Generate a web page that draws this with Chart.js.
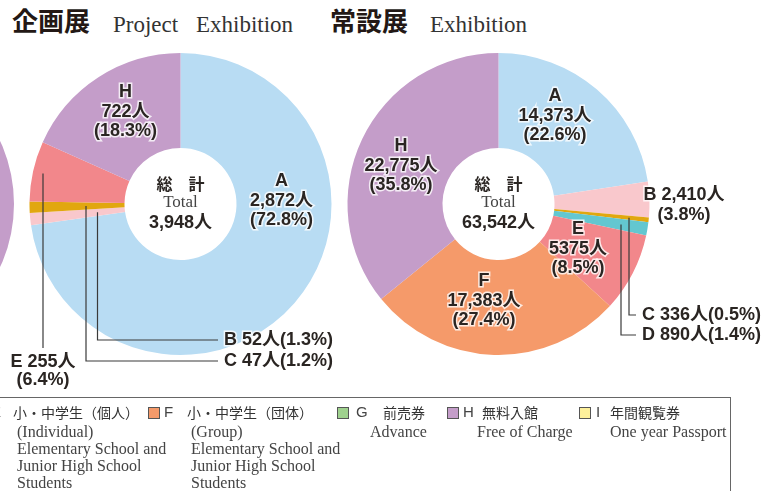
<!DOCTYPE html>
<html>
<head>
<meta charset="utf-8">
<script src="https://cdn.jsdelivr.net/npm/chart.js@4.4.1/dist/chart.umd.min.js"></script>
<style>
  body { margin: 0; width: 781px; height: 491px; overflow: hidden; position: relative; background: #fff; color: #231815; font-family: "Noto Sans CJK JP", sans-serif; }
  canvas { position: absolute; top: 0; }
  .t { position: absolute; white-space: nowrap; }
  .ja-title { font-weight: bold; font-size: 26px; line-height: 26px; top: 7px; }
  .en-title { font-family: "Liberation Serif", serif; font-size: 23px; line-height: 23px; top: 13px; color: #333; }
  #legend { position: absolute; left: -40px; top: 397px; width: 771px; height: 140px; border: 1px solid #666; box-sizing: border-box; }
  .sq { position: absolute; top: 407px; width: 12px; height: 12px; border: 1px solid #555; box-sizing: border-box; }
  .lt { position: absolute; top: 404px; font-family: "Liberation Sans", sans-serif; font-size: 15px; line-height: 16px; color: #444; }
  .lj { position: absolute; top: 404px; font-size: 14px; line-height: 16px; color: #333; white-space: nowrap; }
  .le { position: absolute; top: 423px; font-family: "Liberation Serif", serif; font-size: 16px; line-height: 17px; color: #444; white-space: nowrap; }
</style>
</head>
<body>
<div class="t ja-title" style="left:12px">企画展</div>
<div class="t en-title" style="left:113px">Project</div>
<div class="t en-title" style="left:196px">Exhibition</div>
<div class="t ja-title" style="left:330px">常設展</div>
<div class="t en-title" style="left:430px">Exhibition</div>

<canvas id="partialChart" width="330" height="491" style="left:-300px"></canvas>
<canvas id="projectChart" width="781" height="491" style="left:0"></canvas>
<canvas id="permanentChart" width="781" height="491" style="left:0"></canvas>
<div id="legend"></div>

<script>
// categories and colours
const categories = ['A', 'B', 'C', 'D', 'E', 'F', 'G', 'H', 'I'];
const sliceColors = ['#b8dcf3', '#f9c8cc', '#e1a70f', '#63c7d0', '#f2878b', '#f59a6a', '#9fd18e', '#c49dc9', '#fdf09b'];

// 企画展 Project Exhibition
const projectValues = [2872, 52, 47, 0, 255, 0, 0, 722, 0];
const projectCounts = ['2,872', '52', '47', '', '255', '', '', '722', ''];
const projectPercents = [72.8, 1.3, 1.2, 0, 6.4, 0, 0, 18.3, 0];

// 常設展 Exhibition
const permanentValues = [14373, 2410, 336, 890, 5375, 17383, 0, 22775, 0];
const permanentCounts = ['14,373', '2,410', '336', '890', '5375', '17,383', '', '22,775', ''];
const permanentPercents = [22.6, 3.8, 0.5, 1.4, 8.5, 27.4, 0, 35.8, 0];

// cut-off chart at the left edge, only its purple part shows
const partialValues = [0, 0, 0, 0, 0, 0, 0, 1, 0];

// legend (E..I visible)
const legendCats = ['E', 'F', 'G', 'H', 'I'];
const legendJa = ['小・中学生（個人）', '小・中学生（団体）', '前売券', '無料入館', '年間観覧券'];
const legendEn = [
    ['(Individual)', 'Elementary School and', 'Junior High School', 'Students'],
    ['(Group)', 'Elementary School and', 'Junior High School', 'Students'],
    ['Advance'],
    ['Free of Charge'],
    ['One year Passport']
];

const R = 151, HOLE = 56;
const labelFont = 'bold 18px "Liberation Sans", "Noto Sans CJK JP", sans-serif';
const ink = '#2a2522';

function padAround(cx, cy, w, h) {
    return { left: cx - R, right: w - cx - R, top: cy - R, bottom: h - cy - R };
}

function haloText(ctx, text, x, y) {
    ctx.lineWidth = 3;
    ctx.strokeStyle = 'rgba(255,255,255,0.8)';
    ctx.strokeText(text, x, y);
    ctx.fillStyle = ink;
    ctx.fillText(text, x, y);
}

// draws the total in the hole and the labels round the ring
const ringLabels = {
    id: 'ringLabels',
    afterDatasetsDraw(chart, args, opts) {
        if (!opts.items) return;
        const meta = chart.getDatasetMeta(0);
        const cx = meta.data[0].x, cy = meta.data[0].y;
        const ctx = chart.ctx;
        const counts = opts.counts, pcts = opts.percents;
        const total = chart.data.datasets[0].data.reduce((a, b) => a + b, 0);
        ctx.save();
        ctx.textAlign = 'center';
        ctx.textBaseline = 'middle';
        ctx.fillStyle = ink;
        ctx.font = 'bold 16px "Noto Sans CJK JP", sans-serif';
        ctx.fillText('総　計', cx, cy - 20);
        ctx.font = '17px "Liberation Serif", serif';
        ctx.fillStyle = '#444';
        ctx.fillText('Total', cx, cy - 1);
        ctx.font = labelFont;
        ctx.fillStyle = ink;
        ctx.fillText(total.toLocaleString('en-US') + '人', cx, cy + 19);

        opts.items.forEach(item => {
            const i = categories.indexOf(item.cat);
            const arc = meta.data[i];
            const mid = (arc.startAngle + arc.endAngle) / 2;
            const cnt = counts[i] + '人';
            const pct = '(' + pcts[i] + '%)';
            ctx.font = labelFont;
            if (item.type === 'inside' || item.type === 'side') {
                const lines = item.type === 'inside' ? [item.cat, cnt, pct] : [item.cat + ' ' + cnt, pct];
                const top = cy + item.dy - (lines.length - 1) * 19.5 / 2;
                ctx.textAlign = 'center';
                lines.forEach((l, k) => haloText(ctx, l, cx + item.dx, top + k * 19.5));
                return;
            }
            // leader line from the slice, down, then across to the text
            const ex = cx + item.elbowX;
            const sy = cy + item.elbowX * Math.tan(mid);
            ctx.strokeStyle = '#3a3a3a';
            ctx.lineWidth = 1.2;
            ctx.beginPath();
            ctx.moveTo(ex, sy);
            if (item.type === 'below') {
                ctx.lineTo(ex, cy + item.lineEnd);
                ctx.stroke();
                ctx.textAlign = 'center';
                haloText(ctx, item.cat + ' ' + cnt, ex, cy + item.textY);
                haloText(ctx, pct, ex, cy + item.textY + 18);
            } else {
                ctx.lineTo(ex, cy + item.textY);
                ctx.lineTo(cx + item.textX - 6, cy + item.textY);
                ctx.stroke();
                ctx.textAlign = 'left';
                haloText(ctx, item.cat + ' ' + cnt + pct, cx + item.textX, cy + item.textY);
            }
        });
        ctx.restore();
    }
};

function makeRing(id, values, cx, cy, w, h, labels) {
    return new Chart(document.getElementById(id), {
        type: 'doughnut',
        data: {
            labels: categories,
            datasets: [{
                data: values,
                backgroundColor: sliceColors,
                borderWidth: 0
            }]
        },
        options: {
            responsive: false,
            animation: false,
            radius: R,
            cutout: HOLE,
            layout: { padding: padAround(cx, cy, w, h) },
            events: [],
            plugins: {
                legend: { display: false },
                tooltip: { enabled: false },
                ringLabels: labels || {}
            }
        },
        plugins: [ringLabels]
    });
}

makeRing('partialChart', partialValues, 163, 204, 330, 491);

makeRing('projectChart', projectValues, 180.5, 204, 781, 491, {
    counts: projectCounts,
    percents: projectPercents,
    items: [
        { cat: 'A', type: 'inside', dx: 101, dy: -3 },
        { cat: 'H', type: 'inside', dx: -55, dy: -92 },
        { cat: 'B', type: 'right', elbowX: -83, textX: 43.5, textY: 136 },
        { cat: 'C', type: 'right', elbowX: -94.5, textX: 43.5, textY: 157 },
        { cat: 'E', type: 'below', elbowX: -137.5, lineEnd: 144, textY: 158 }
    ]
});

makeRing('permanentChart', permanentValues, 498.5, 204, 781, 491, {
    counts: permanentCounts,
    percents: permanentPercents,
    items: [
        { cat: 'A', type: 'inside', dx: 56.5, dy: -88 },
        { cat: 'H', type: 'inside', dx: -97.5, dy: -38 },
        { cat: 'F', type: 'inside', dx: -14.5, dy: 97 },
        { cat: 'E', type: 'inside', dx: 79.5, dy: 45 },
        { cat: 'B', type: 'side', dx: 185.5, dy: 1 },
        { cat: 'C', type: 'right', elbowX: 130.5, textX: 143.5, textY: 111 },
        { cat: 'D', type: 'right', elbowX: 122.5, textX: 143.5, textY: 131 }
    ]
});

// legend items: square, letter, japanese name, english lines
const legendPos = [[-26, -9, 13, 17], [148, 164, 187, 191], [337, 356, 383, 370], [447, 463, 482, 477], [579, 596, 610, 610]];
legendCats.forEach((cat, k) => {
    const [sx, lx, jx, ex] = legendPos[k];
    const color = sliceColors[categories.indexOf(cat)];
    document.body.insertAdjacentHTML('beforeend',
        `<div class="sq" style="left:${sx}px;background:${color}"></div>` +
        `<div class="lt" style="left:${lx}px">${cat}</div>` +
        `<div class="lj" style="left:${jx}px">${legendJa[k]}</div>` +
        `<div class="le" style="left:${ex}px">${legendEn[k].join('<br>')}</div>`);
});
</script>
</body>
</html>
